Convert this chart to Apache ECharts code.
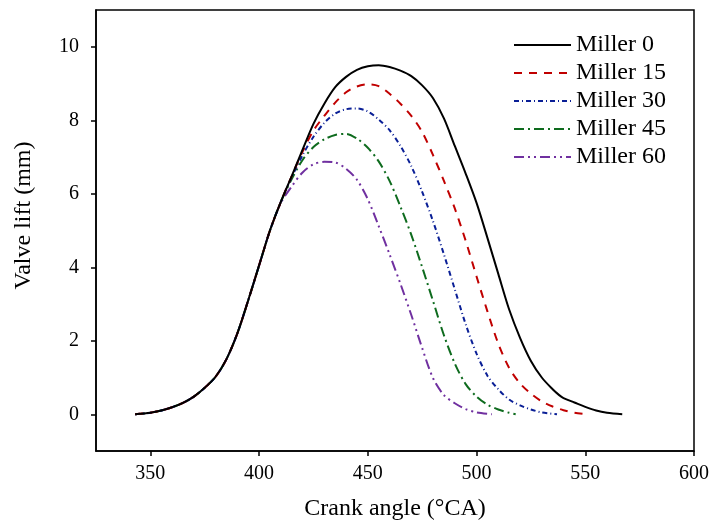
<!DOCTYPE html>
<html>
<head>
<meta charset="utf-8">
<script src="https://cdn.jsdelivr.net/npm/echarts@6/dist/echarts.min.js"></script>
<style>
html,body{margin:0;padding:0;background:#fff;}
#chart{width:712px;height:526px;}
</style>
</head>
<body>
<div id="chart"></div>
<script>
// ---- data ----
var seriesNames = ['Miller 0', 'Miller 15', 'Miller 30', 'Miller 45', 'Miller 60'];

var angle0 = [343,350,355,360,365,370,375,380,385,390,395,400,405,410,415,420,425,430,435,440,445,450,455,460,465,470,475,480,485,490,495,500,505,510,515,520,525,530,535,538,540,545,550,555,560,567];
var lift0  = [0,0.04,0.1,0.19,0.31,0.48,0.72,1.02,1.5,2.2,3.1,4.05,5.0,5.78,6.48,7.2,7.9,8.45,8.9,9.18,9.37,9.47,9.5,9.45,9.35,9.2,8.95,8.6,8.05,7.3,6.55,5.75,4.8,3.82,2.85,2.08,1.45,1.0,0.68,0.52,0.44,0.32,0.2,0.1,0.04,0];

var angle15 = [343,350,355,360,365,370,375,380,385,390,395,400,405,410,415,420,425,430,435,440,445,450,455,460,465,470,475,480,485,490,495,500,505,510,515,520,525,530,535,540,545,551];
var lift15  = [0,0.04,0.1,0.19,0.31,0.48,0.72,1.02,1.5,2.2,3.1,4.05,5.0,5.78,6.48,7.15,7.72,8.12,8.48,8.76,8.92,8.98,8.93,8.72,8.45,8.12,7.68,7.05,6.35,5.6,4.72,3.75,2.8,1.92,1.26,0.84,0.56,0.35,0.21,0.11,0.04,0];

var angle30 = [343,350,355,360,365,370,375,380,385,390,395,400,405,410,415,420,425,430,435,440,445,450,455,460,465,470,475,480,485,490,495,500,505,510,515,520,525,530,537];
var lift30  = [0,0.04,0.1,0.19,0.31,0.48,0.72,1.02,1.5,2.2,3.1,4.05,5.0,5.78,6.45,7.05,7.55,7.93,8.18,8.3,8.32,8.24,8.02,7.73,7.3,6.75,6.05,5.25,4.35,3.4,2.45,1.65,1.05,0.68,0.4,0.24,0.13,0.05,0];

var angle45 = [343,350,355,360,365,370,375,380,385,390,395,400,405,410,415,420,425,430,435,440,445,450,455,460,465,470,475,480,485,490,495,500,505,510,515,518];
var lift45  = [0,0.04,0.1,0.19,0.31,0.48,0.72,1.02,1.5,2.2,3.1,4.05,5.0,5.78,6.4,6.92,7.27,7.48,7.6,7.63,7.5,7.25,6.88,6.35,5.65,4.88,4.0,3.08,2.15,1.38,0.82,0.48,0.26,0.13,0.04,0];

var angle60 = [343,350,355,360,365,370,375,380,385,390,395,400,405,410,415,420,425,430,435,440,445,450,455,460,465,470,475,480,485,490,495,500,507];
var lift60  = [0,0.04,0.1,0.19,0.31,0.48,0.72,1.02,1.5,2.2,3.1,4.05,5.0,5.75,6.2,6.58,6.8,6.87,6.85,6.68,6.38,5.85,5.12,4.35,3.55,2.7,1.8,0.98,0.52,0.3,0.14,0.05,0];

var xTicks = [350,400,450,500,550,600];
var yTicks = [0,2,4,6,8,10];

// ---- chart ----
function pairs(xs, ys){ return xs.map(function(x,i){ return [x, ys[i]]; }); }
var angles = [angle0, angle15, angle30, angle45, angle60];
var lifts = [lift0, lift15, lift30, lift45, lift60];
var colors = ['#000000', '#c00000', '#0a1f96', '#0e6b1e', '#7030a0'];
var dashes = ['solid', [8,7], [5,3,1,3], [10,4,2,4], [10,4,2,4,2,4]];

var font = '"Liberation Serif", "Times New Roman", serif';

var series = seriesNames.map(function(n, i){
  return {
    name: n,
    type: 'line',
    data: pairs(angles[i], lifts[i]),
    showSymbol: false,
    symbol: 'none',
    smooth: 0.3,
    z: 10 - i,
    lineStyle: { color: colors[i], width: 2, type: dashes[i] },
    itemStyle: { color: colors[i] }
  };
});

var chart = echarts.init(document.getElementById('chart'), null, {renderer: 'canvas'});
chart.setOption({
  animation: false,
  backgroundColor: '#ffffff',
  grid: { left: 96, right: 15, top: 10, bottom: 71, show: true, borderColor: '#000', borderWidth: 1.5, backgroundColor: 'transparent' },
  legend: {
    orient: 'vertical',
    left: 513,
    top: 33,
    padding: 0,
    itemWidth: 57,
    itemHeight: 14,
    itemGap: 4,
    itemStyle: { opacity: 0 },
    textStyle: { fontFamily: font, fontSize: 24, color: '#000', lineHeight: 24 },
    data: seriesNames
  },
  xAxis: {
    type: 'value',
    min: 325,
    max: 600,
    name: 'Crank angle (°CA)',
    nameLocation: 'middle',
    nameGap: 46,
    nameTextStyle: { fontFamily: font, fontSize: 24, color: '#000' },
    axisLine: { onZero: false, lineStyle: { color: '#000', width: 1.5 } },
    axisTick: { show: true, inside: false, length: 5, lineStyle: { color: '#000', width: 1.5 }, customValues: xTicks },
    axisLabel: { fontFamily: font, fontSize: 20, color: '#000', margin: 13, customValues: xTicks },
    splitLine: { show: false }
  },
  yAxis: {
    type: 'value',
    min: -1,
    max: 11,
    name: 'Valve lift (mm)',
    nameLocation: 'middle',
    nameGap: 60,
    nameRotate: 90,
    nameTextStyle: { fontFamily: font, fontSize: 24, color: '#000', padding: [0, 0, 0, 30] },
    axisLine: { onZero: false, lineStyle: { color: '#000', width: 1.5 } },
    axisTick: { show: true, inside: false, length: 5, lineStyle: { color: '#000', width: 1.5 }, customValues: yTicks },
    axisLabel: { fontFamily: font, fontSize: 20, color: '#000', margin: 17, customValues: yTicks },
    splitLine: { show: false }
  },
  series: series
});
</script>
</body>
</html>
